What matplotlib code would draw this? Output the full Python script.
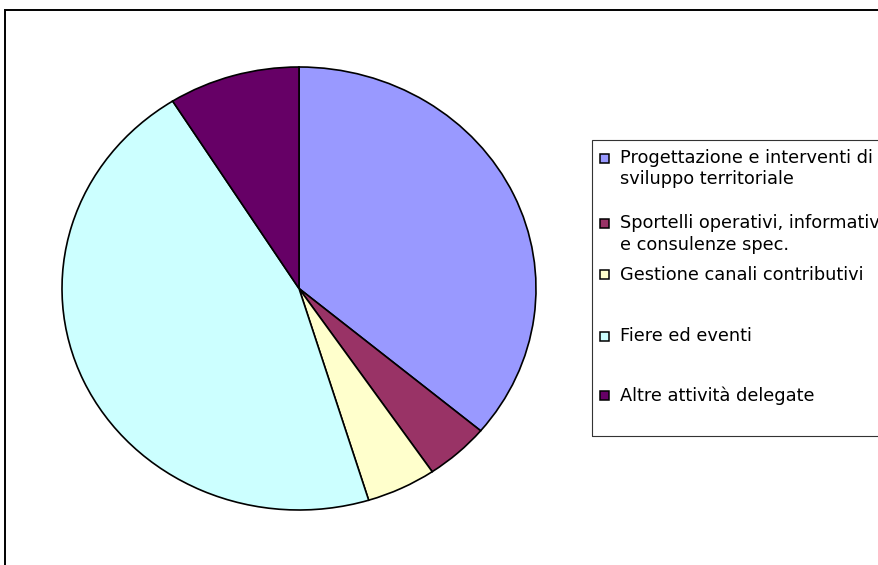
import matplotlib
matplotlib.use("Agg")
import matplotlib.pyplot as plt
from matplotlib.patches import Rectangle

labels = ["Progettazione e interventi di\nsviluppo territoriale",
          "Sportelli operativi, informativi\ne consulenze spec.",
          "Gestione canali contributivi",
          "Fiere ed eventi",
          "Altre attività delegate"]
values = [36.1, 4.4, 4.75, 45.8, 8.95]
colors = ["#9999FF", "#993366", "#FFFFCC", "#CCFFFF", "#660066"]

W, H = 879, 565
fig = plt.figure(figsize=(W / 100, H / 100), dpi=100)

def fx(x):
    return x / W

def fy(y):
    return 1 - y / H

# chart area frame (extends beyond right/bottom)
fig.add_artist(Rectangle((fx(5), fy(1000)), fx(2000), fy(10) - fy(1000),
                         transform=fig.transFigure, fill=False,
                         edgecolor="black", linewidth=1.4))

cx, cy, rx, ry = 299, 288.5, 237, 221.5
ax = fig.add_axes([fx(cx - rx), fy(cy + ry), fx(2 * rx), (2 * ry) / H])
ax.pie(values, colors=colors, startangle=90, counterclock=False,
       wedgeprops=dict(edgecolor="black", linewidth=1.2))
ax.set_aspect("auto")
ax.set_xlim(-1, 1)
ax.set_ylim(-1, 1)
ax.axis("off")

# legend box
fig.add_artist(Rectangle((fx(592), fy(436)), fx(2000), fy(140) - fy(436),
                         transform=fig.transFigure, fill=False,
                         edgecolor="#333333", linewidth=0.8))
ycent = [158, 223.5, 274.5, 336, 395.5]
for lab, col, yc in zip(labels, colors, ycent):
    fig.add_artist(Rectangle((fx(600), fy(yc + 4.5)), fx(9), 9 / H,
                             transform=fig.transFigure, facecolor=col,
                             edgecolor="black", linewidth=1.1))
    for i, line in enumerate(lab.split("\n")):
        fig.text(fx(620), fy(yc + i * 21), line, ha="left", va="center",
                 fontsize=12.8, family="DejaVu Sans", color="black")

fig.savefig("out.png", dpi=100)
